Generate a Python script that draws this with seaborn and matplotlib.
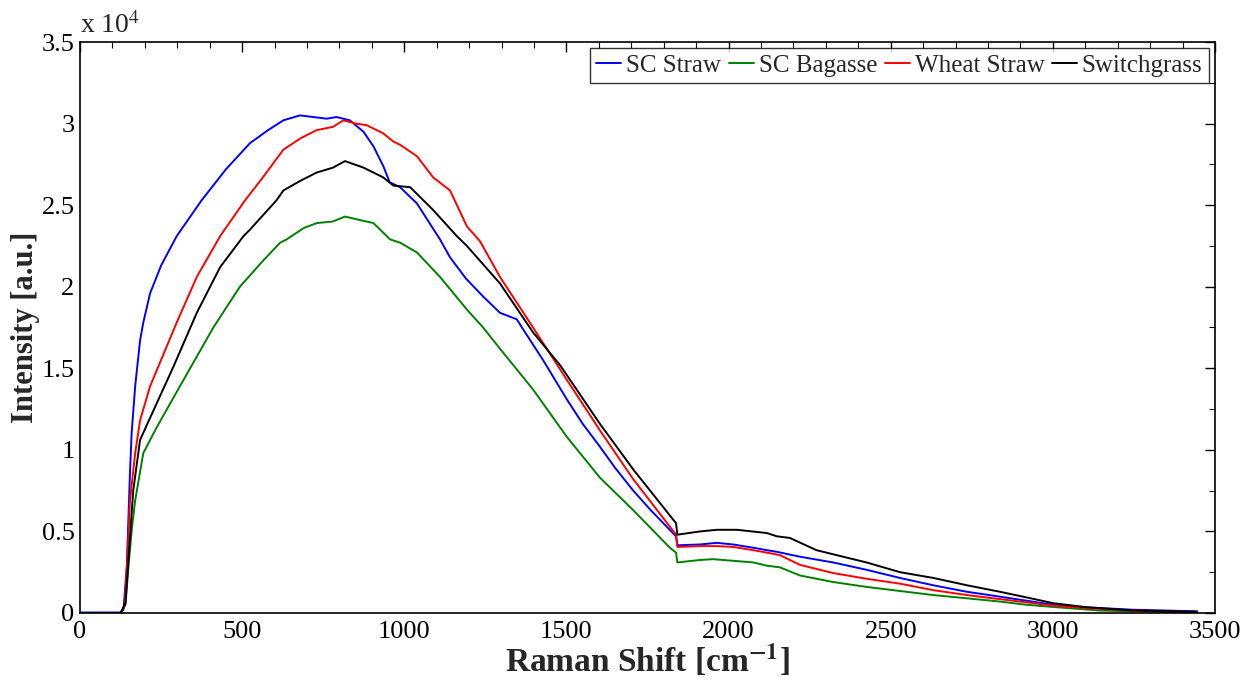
import numpy as np
import pandas as pd
import matplotlib
matplotlib.use("Agg")
import matplotlib.pyplot as plt
import seaborn as sns
from matplotlib.ticker import MultipleLocator, FuncFormatter

# ---- data (intensity in units of 1e4 counts) ----
series_names = ["SC Straw", "SC Bagasse", "Wheat Straw", "Switchgrass"]
series_colors = ["#0000ff", "#008000", "#ff0000", "#000000"]

sc_straw_x = [0, 125, 134, 144, 149, 154, 159, 170, 185, 195,
              216, 250, 298, 375, 450, 524, 580, 627, 678, 720,
              760, 791, 832, 874, 905, 935, 955, 987, 1039, 1110,
              1141, 1190, 1243, 1295, 1347, 1366, 1428, 1501, 1550, 1603,
              1650, 1706, 1760, 1838, 1842, 1912, 1964, 2014, 2076, 2118,
              2149, 2220, 2322, 2425, 2528, 2631, 2735, 2837, 2920, 3001,
              3100, 3248, 3350, 3445]
sc_straw_y = [0.003, 0.003, 0.02, 0.28, 0.57, 0.86, 1.10, 1.39, 1.67, 1.78,
              1.96, 2.13, 2.31, 2.53, 2.72, 2.88, 2.96, 3.02, 3.05, 3.04,
              3.03, 3.04, 3.02, 2.95, 2.86, 2.74, 2.64, 2.61, 2.51, 2.29,
              2.18, 2.05, 1.94, 1.84, 1.80, 1.74, 1.55, 1.31, 1.16, 1.02,
              0.89, 0.75, 0.63, 0.47, 0.415, 0.42, 0.43, 0.42, 0.40, 0.385,
              0.375, 0.345, 0.31, 0.265, 0.215, 0.17, 0.13, 0.10, 0.075, 0.05,
              0.035, 0.02, 0.015, 0.01]

sc_bagasse_x = [0, 125, 140, 150, 160, 170, 195, 237, 308, 411,
                493, 560, 617, 637, 690, 730, 780, 817, 860, 905,
                956, 987, 1039, 1110, 1193, 1243, 1295, 1397, 1501, 1603,
                1706, 1819, 1838, 1842, 1912, 1952, 2014, 2076, 2118, 2158,
                2220, 2322, 2425, 2528, 2631, 2735, 2837, 2920, 3001, 3145,
                3300, 3445]
sc_bagasse_y = [0.0, 0.0, 0.05, 0.30, 0.52, 0.69, 0.98, 1.14, 1.39, 1.75,
                2.00, 2.15, 2.27, 2.29, 2.36, 2.39, 2.40, 2.43, 2.41, 2.39,
                2.29, 2.27, 2.21, 2.06, 1.86, 1.75, 1.62, 1.37, 1.08, 0.83,
                0.63, 0.40, 0.37, 0.31, 0.325, 0.33, 0.32, 0.31, 0.29, 0.28,
                0.23, 0.19, 0.16, 0.135, 0.11, 0.09, 0.07, 0.05, 0.037, 0.015,
                0.008, 0.005]

wheat_straw_x = [0, 125, 138, 146, 154, 170, 185, 216, 298, 360,
                 432, 509, 560, 627, 680, 730, 780, 812, 850, 884,
                 935, 966, 987, 1039, 1089, 1141, 1193, 1233, 1295, 1397,
                 1501, 1603, 1706, 1838, 1842, 1912, 1964, 2014, 2076, 2118,
                 2158, 2220, 2322, 2425, 2528, 2631, 2735, 2816, 2920, 3001,
                 3100, 3248, 3445]
wheat_straw_y = [0.0, 0.0, 0.05, 0.35, 0.69, 0.98, 1.18, 1.39, 1.78, 2.06,
                 2.31, 2.53, 2.66, 2.84, 2.91, 2.96, 2.98, 3.02, 3.00, 2.99,
                 2.94, 2.89, 2.87, 2.80, 2.67, 2.59, 2.37, 2.28, 2.06, 1.75,
                 1.43, 1.12, 0.82, 0.48, 0.405, 0.41, 0.41, 0.405, 0.385, 0.37,
                 0.355, 0.295, 0.245, 0.21, 0.18, 0.14, 0.11, 0.09, 0.065, 0.045,
                 0.03, 0.015, 0.005]

switchgrass_x = [0, 125, 140, 150, 164, 185, 226, 288, 360, 432,
                 504, 524, 606, 627, 680, 730, 780, 817, 874, 935,
                 966, 1018, 1089, 1162, 1193, 1295, 1397, 1480, 1603, 1706,
                 1838, 1842, 1912, 1964, 2026, 2118, 2149, 2189, 2271, 2425,
                 2529, 2631, 2735, 2837, 2920, 3001, 3105, 3250, 3445]
switchgrass_y = [0.0, 0.0, 0.06, 0.35, 0.75, 1.06, 1.24, 1.51, 1.84, 2.12,
                 2.31, 2.35, 2.53, 2.59, 2.65, 2.70, 2.73, 2.77, 2.73, 2.67,
                 2.62, 2.61, 2.47, 2.31, 2.25, 2.02, 1.72, 1.52, 1.16, 0.88,
                 0.55, 0.48, 0.50, 0.51, 0.51, 0.49, 0.47, 0.46, 0.385, 0.31,
                 0.25, 0.215, 0.17, 0.13, 0.095, 0.06, 0.035, 0.015, 0.008]

x_ticks = [0, 500, 1000, 1500, 2000, 2500, 3000, 3500]
y_ticks = [0, 0.5, 1, 1.5, 2, 2.5, 3, 3.5]

frames = []
for name, xs, ys in zip(series_names,
                        [sc_straw_x, sc_bagasse_x, wheat_straw_x, switchgrass_x],
                        [sc_straw_y, sc_bagasse_y, wheat_straw_y, switchgrass_y]):
    frames.append(pd.DataFrame({"shift": xs, "intensity": ys, "sample": name}))
df = pd.concat(frames, ignore_index=True)

sns.set_theme(style="white")
plt.rcParams["font.family"] = ["Liberation Serif", "DejaVu Serif"]
plt.rcParams["mathtext.fontset"] = "stix"

fig = plt.figure(figsize=(12.45, 6.83), dpi=100)
ax = fig.add_axes([0.0643, 0.1025, 0.9116, 0.836])

sns.lineplot(data=df, x="shift", y="intensity", hue="sample",
             hue_order=series_names, palette=series_colors,
             estimator=None, sort=False, linewidth=1.4, ax=ax, legend=False)

ax.set_xlim(0, 3500)
ax.set_ylim(0, 3.5)
ax.set_xticks(x_ticks)
ax.set_yticks(y_ticks)
ax.xaxis.set_minor_locator(MultipleLocator(100))
ax.yaxis.set_minor_locator(MultipleLocator(0.25))
ax.yaxis.set_major_formatter(FuncFormatter(lambda v, p: ("%g" % v)))
ax.tick_params(which="both", direction="in", top=True, right=True,
               labelsize=19, colors="black")
ax.tick_params(axis="x", which="major", pad=6)
ax.tick_params(axis="y", which="major", pad=4)
ax.tick_params(which="major", length=7, width=1.0)
ax.tick_params(which="minor", length=4, width=0.8)
for s in ax.spines.values():
    s.set_color("black")
    s.set_linewidth(1.2)

ax.set_xlabel(r"Raman Shift [cm$^{\mathbf{-1}}$]", fontsize=24,
              fontweight="bold", labelpad=0)
ax.set_ylabel("Intensity [a.u.]", fontsize=22, fontweight="bold", labelpad=1)

ax.text(0.0, 1.006, r"x 10$^{4}$", transform=ax.transAxes,
        fontsize=20, ha="left", va="bottom")

handles = [plt.Line2D([], [], color=c, lw=1.4) for c in series_colors]
leg = ax.legend(handles, series_names, loc="upper right", ncol=4,
                fontsize=18, frameon=True, fancybox=False,
                handlelength=1.0, handletextpad=0.2, columnspacing=0.3,
                borderpad=0.25, borderaxespad=0.25)
leg.get_frame().set_edgecolor("black")
leg.get_frame().set_linewidth(1.0)

fig.savefig("out.png", dpi=100)
